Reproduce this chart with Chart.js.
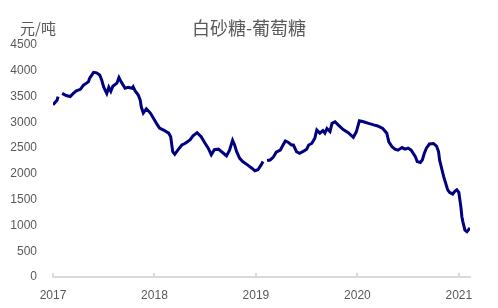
<!DOCTYPE html>
<html>
<head>
<meta charset="utf-8">
<script src="https://cdn.jsdelivr.net/npm/chart.js@4.4.1/dist/chart.umd.min.js"></script>
<style>
  html, body { margin: 0; padding: 0; background: #fff; }
  #wrap { width: 498px; height: 308px; position: relative; }
</style>
</head>
<body>
<div id="wrap"><canvas id="chart"></canvas></div>
<script>
// decimal years (null = gap in the series)
const dates = [
  2017.00, 2017.04, 2017.05, 2017.07, 2017.09, 2017.13, 2017.17, 2017.20, 2017.23, 2017.27,
  2017.30, 2017.33, 2017.35, 2017.36, 2017.40, 2017.43, 2017.46, 2017.48, 2017.50, 2017.53,
  2017.55, 2017.57, 2017.59, 2017.63, 2017.65, 2017.67, 2017.68, 2017.71, 2017.74, 2017.78,
  2017.79, 2017.81, 2017.84, 2017.86, 2017.87, 2017.89, 2017.92, 2017.96, 2017.99, 2018.02,
  2018.05, 2018.09, 2018.14, 2018.16, 2018.18, 2018.20, 2018.23, 2018.27, 2018.30, 2018.35,
  2018.38, 2018.42, 2018.46, 2018.50, 2018.53, 2018.56, 2018.59, 2018.63, 2018.68, 2018.71,
  2018.74, 2018.77, 2018.79, 2018.81, 2018.84, 2018.87, 2018.92, 2018.96, 2018.99, 2019.02,
  2019.05, 2019.07, 2019.09, 2019.11, 2019.14, 2019.17, 2019.20, 2019.24, 2019.27, 2019.29,
  2019.32, 2019.35, 2019.37, 2019.40, 2019.43, 2019.47, 2019.50, 2019.52, 2019.55, 2019.58,
  2019.60, 2019.63, 2019.66, 2019.68, 2019.70, 2019.73, 2019.75, 2019.78, 2019.81, 2019.86,
  2019.91, 2019.96, 2019.99, 2020.02, 2020.06, 2020.11, 2020.16, 2020.20, 2020.25, 2020.29,
  2020.31, 2020.34, 2020.37, 2020.40, 2020.44, 2020.47, 2020.50, 2020.53, 2020.57, 2020.59,
  2020.62, 2020.64, 2020.66, 2020.68, 2020.71, 2020.75, 2020.78, 2020.80, 2020.81, 2020.83,
  2020.85, 2020.87, 2020.89, 2020.91, 2020.94, 2020.96, 2020.98, 2021.00, 2021.02, 2021.03,
  2021.04, 2021.06, 2021.08, 2021.11
];

const spread = [
  3340, 3430, 3500, null, 3560, 3520, 3500, 3560, 3610, 3640,
  3720, 3760, 3790, 3850, 3970, 3960, 3920, 3820, 3680, 3560,
  3680, 3600, 3700, 3760, 3870, 3790, 3760, 3660, 3680, 3660,
  3690, 3610, 3530, 3430, 3300, 3180, 3260, 3180, 3080, 2980,
  2890, 2850, 2790, 2720, 2430, 2380, 2460, 2560, 2590, 2660,
  2740, 2800, 2720, 2590, 2500, 2370, 2470, 2480, 2400, 2350,
  2460, 2650, 2560, 2430, 2300, 2240, 2170, 2110, 2060, 2080,
  2170, 2240, null, 2260, 2270, 2320, 2420, 2460, 2570, 2640,
  2610, 2560, 2560, 2430, 2400, 2440, 2480, 2560, 2590, 2690,
  2850, 2790, 2840, 2790, 2880, 2820, 2980, 3010, 2950, 2860,
  2800, 2710, 2820, 3030, 3010, 2980, 2950, 2930, 2880, 2790,
  2620, 2530, 2480, 2460, 2510, 2480, 2500, 2460, 2340, 2240,
  2220, 2270, 2400, 2500, 2580, 2590, 2540, 2430, 2270, 2110,
  1950, 1820, 1690, 1640, 1610, 1660, 1690, 1640, 1360, 1170,
  1070, 910, 880, 950
];

const yearTicks = [2017, 2018, 2019, 2020, 2021];
const yTicks = [0, 500, 1000, 1500, 2000, 2500, 3000, 3500, 4000, 4500];

const textColor = "#595959";
const axisColor = "#d9d9d9";

// title and unit drawn on the canvas so the title centres on the full width
const headerText = {
  id: "headerText",
  afterDraw(chart) {
    const { ctx, width } = chart;
    ctx.save();
    ctx.fillStyle = textColor;
    ctx.textBaseline = "middle";
    ctx.font = "15px 'Noto Sans CJK SC', sans-serif";
    ctx.textAlign = "left";
    ctx.fillText("元/吨", 20, 28);
    ctx.font = "18px 'Noto Sans CJK SC', sans-serif";
    ctx.textAlign = "center";
    ctx.fillText("白砂糖-葡萄糖", width / 2, 28);
    ctx.restore();
  },
};

new Chart(document.getElementById("chart"), {
  type: "line",
  data: {
    datasets: [{
      data: dates.map((d, i) => ({ x: d, y: spread[i] })),
      borderColor: "#000080",
      borderWidth: 3,
      pointRadius: 0,
      tension: 0,
      spanGaps: false,
    }],
  },
  options: {
    responsive: true,
    maintainAspectRatio: false,
    animation: false,
    layout: { padding: { left: 0, right: 28, top: 45, bottom: 0 } },
    plugins: {
      legend: { display: false },
      tooltip: { enabled: false },
      title: { display: false },
    },
    scales: {
      x: {
        type: "linear",
        min: yearTicks[0],
        max: dates[dates.length - 1],
        afterBuildTicks: s => { s.ticks = yearTicks.map(v => ({ value: v })); },
        afterFit: s => { s.height = 31; },
        grid: { display: true, drawOnChartArea: false, drawTicks: true, tickLength: -4, color: axisColor, lineWidth: 2 },
        border: { display: true, color: axisColor, width: 2 },
        ticks: {
          color: textColor,
          padding: 15,
          maxRotation: 0,
          font: { family: "'Liberation Sans', Arial, sans-serif", size: 12 },
          callback: v => String(v),
        },
      },
      y: {
        min: 0,
        max: 4500,
        afterBuildTicks: s => { s.ticks = yTicks.map(v => ({ value: v })); },
        afterFit: s => { s.width = 53; },
        grid: { display: false, drawTicks: false },
        border: { display: false },
        ticks: {
          color: textColor,
          padding: 16,
          font: { family: "'Liberation Sans', Arial, sans-serif", size: 12 },
          callback: v => String(v),
        },
      },
    },
  },
  plugins: [headerText],
});
</script>
</body>
</html>
